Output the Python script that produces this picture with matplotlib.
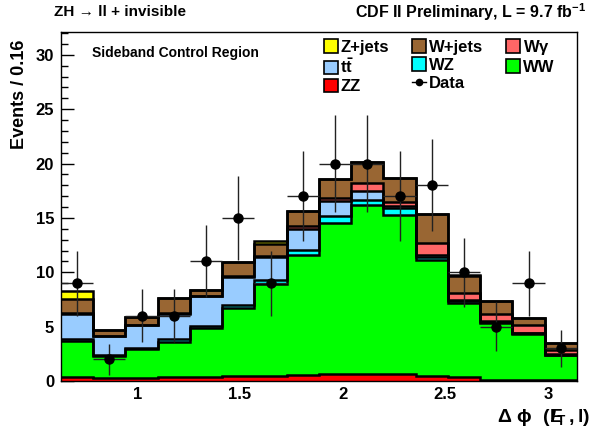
import numpy as np
import matplotlib
matplotlib.use("Agg")
import matplotlib.pyplot as plt
from matplotlib.patches import Patch
from matplotlib.lines import Line2D

plt.rcParams['font.family'] = ['Liberation Sans', 'DejaVu Sans']
plt.rcParams['mathtext.fontset'] = 'custom'
plt.rcParams['mathtext.rm'] = 'Liberation Sans:bold'
plt.rcParams['mathtext.it'] = 'Liberation Sans:bold'
plt.rcParams['mathtext.bf'] = 'Liberation Sans:bold'

# 16 bins of pi/20 from pi/5 to pi
edges = np.linspace(np.pi / 5, np.pi, 17)

# background components (events per bin), stacked bottom -> top
zz = [0.40, 0.30, 0.30, 0.35, 0.35, 0.43, 0.50, 0.58, 0.62, 0.65, 0.62, 0.50, 0.37, 0.13, 0.13, 0.05]
ww = [3.25, 2.00, 2.68, 3.25, 4.50, 6.30, 8.40, 11.00, 13.93, 15.53, 14.64, 10.61, 6.76, 5.21, 4.23, 2.32]
wz = [0.25, 0.10, 0.10, 0.25, 0.20, 0.30, 0.37, 0.46, 0.62, 0.46, 0.61, 0.31, 0.24, 0.10, 0.05, 0.05]
ttbar = [2.24, 1.72, 2.05, 2.29, 2.75, 2.55, 2.15, 1.91, 1.38, 0.86, 0.21, 0.15, 0.10, 0.05, 0.05, 0.05]
wgamma = [0.10, 0.05, 0.05, 0.10, 0.05, 0.05, 0.10, 0.30, 0.30, 0.74, 0.40, 1.14, 0.58, 0.65, 0.70, 0.41]
wjets = [1.26, 0.50, 0.72, 1.36, 0.56, 1.27, 1.07, 1.41, 1.72, 1.93, 2.22, 2.64, 1.65, 1.23, 0.61, 0.62]
zjets = [0.80, 0.00, 0.00, 0.00, 0.00, 0.00, 0.30, 0.00, 0.00, 0.00, 0.00, 0.00, 0.05, 0.00, 0.00, 0.00]

data = [9, 2, 6, 6, 11, 15, 9, 17, 20, 20, 17, 18, 10, 5, 9, 3]

labels = ["ZZ", "WW", "WZ", r"t$\bar{\rm t}$", r"W$\gamma$", "W+jets", "Z+jets"]
colors = ["#ff0000", "#00ff00", "#00ffff", "#99ccff", "#ff6666", "#996633", "#ffff00"]
components = [zz, ww, wz, ttbar, wgamma, wjets, zjets]

fig = plt.figure(figsize=(5.95, 4.32), dpi=100)
ax = fig.add_axes([0.1025, 0.118, 0.8672, 0.808])

cum = np.cumsum(np.array(components), axis=0)
for i in range(len(components) - 1, -1, -1):
    ax.stairs(cum[i], edges, baseline=0, fill=True, facecolor=colors[i],
              edgecolor="none", zorder=2)
    ax.stairs(cum[i], edges, baseline=None, color="black", lw=1.8, zorder=3)

centers = 0.5 * (edges[:-1] + edges[1:])
halfw = 0.5 * (edges[1] - edges[0])
data = np.array(data, dtype=float)
ax.errorbar(centers, data, xerr=halfw, yerr=np.sqrt(data), fmt="o", color="black",
            ecolor="#222222", elinewidth=1.0, markersize=6.5, capsize=0, zorder=5)

ax.set_xlim(edges[0], edges[-1])
ax.set_ylim(0, 32.1)
ax.set_xticks([1, 1.5, 2, 2.5, 3])
ax.set_xticklabels(["1", "1.5", "2", "2.5", "3"])
ax.set_xticks(np.arange(0.7, 3.15, 0.1), minor=True)
ax.set_yticks([0, 5, 10, 15, 20, 25, 30])
ax.set_yticks(np.arange(0, 32.1, 1), minor=True)
ax.tick_params(direction="in", which="major", length=9, width=1, labelsize=12)
ax.tick_params(axis="x", which="major", pad=4)
ax.tick_params(axis="y", which="major", pad=5)
ax.tick_params(direction="in", which="minor", length=5, width=1)
for lab in ax.get_xticklabels() + ax.get_yticklabels():
    lab.set_fontweight("bold")
for s in ax.spines.values():
    s.set_linewidth(1.0)

ax.set_ylabel("Events / 0.16", loc="top", fontsize=13, fontweight="bold")
ax.yaxis.set_label_coords(-0.064, 0.977)
ax.set_xlabel(r"$\Delta\ \phi\ \ (E\!\!\!\!/_{T}\,,l)$", loc="right", fontsize=14)
ax.xaxis.set_label_coords(1.025, -0.075)

ax.text(0.06, 0.94, "Sideband Control Region", transform=ax.transAxes,
        fontsize=10, fontweight="bold", va="center")
fig.text(0.09, 0.972, "ZH \u2192 ll + invisible", fontsize=11, fontweight="bold", va="center")
fig.text(0.985, 0.972, r"CDF II Preliminary, L = 9.7 fb$^{\mathregular{-1}}$", fontsize=11.5,
         fontweight="bold", va="center", ha="right")

# legend, filled column-wise to reproduce ROOT's row order
h = {lab: Patch(facecolor=c, edgecolor="black", lw=1.2) for lab, c in zip(labels, colors)}
h_data = Line2D([], [], color="black", marker="o", markersize=4.5, lw=1)
handles = [h["Z+jets"], h[labels[3]], h["ZZ"], h["W+jets"], h["WZ"], h_data, h[labels[4]], h["WW"]]
names = ["Z+jets", labels[3], "ZZ", "W+jets", "WZ", "Data", labels[4], "WW"]
leg = ax.legend(handles, names, ncol=3, loc="upper left", bbox_to_anchor=(0.48, 1.026),
                frameon=False, handlelength=0.85, handleheight=0.85,
                handletextpad=0.15, columnspacing=1.4, labelspacing=0.15,
                prop={"weight": "bold", "size": 12})

fig.savefig("out.png", dpi=100)
